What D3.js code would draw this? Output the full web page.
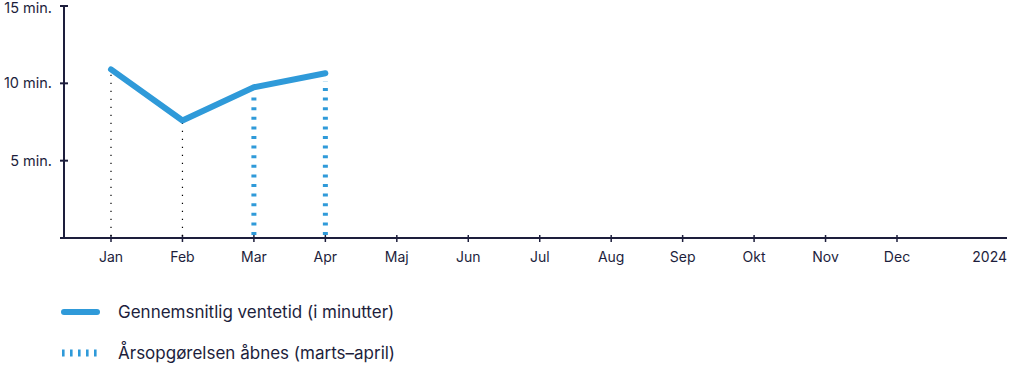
<!DOCTYPE html>
<html><head><meta charset="utf-8">
<script src="https://cdn.jsdelivr.net/npm/d3@7"></script>
<style>
body{margin:0;background:#fff;}
text{font-family:"Inter","Lato",sans-serif;fill:#1d1e3c;}
</style></head>
<body><svg id="c" width="1009" height="365"></svg>
<script>
const months = ["Jan","Feb","Mar","Apr","Maj","Jun","Jul","Aug","Sep","Okt","Nov","Dec"];
const yearLabel = "2024";
const values = [10.9, 7.6, 9.75, 10.65];
const markerIdxDotted = [0, 1];
const markerIdxDashed = [2, 3];
const yTicks = [5, 10, 15];
const legendLabels = ["Gennemsnitlig ventetid (i minutter)", "Årsopgørelsen åbnes (marts–april)"];

const navy = "#1d1e3c", blue = "#2f9ad9";
const svg = d3.select("#c");
const x = d3.scaleLinear().domain([0, 11]).range([111, 897]);
const y = d3.scaleLinear().domain([0, 15]).range([238, 6]);

// axes
svg.append("line").attr("x1",64).attr("x2",64).attr("y1",y(15)).attr("y2",y(0)+1)
  .attr("stroke",navy).attr("stroke-width",2);
svg.append("line").attr("x1",60).attr("x2",1007).attr("y1",y(0)).attr("y2",y(0))
  .attr("stroke",navy).attr("stroke-width",2);
yTicks.forEach(t=>{
  svg.append("line").attr("x1",60).attr("x2",68).attr("y1",y(t)).attr("y2",y(t)).attr("stroke",navy).attr("stroke-width",2);
  svg.append("text").attr("x",52).attr("y",Math.max(y(t),7.5)).attr("dy","0.35em").attr("text-anchor","end")
    .attr("font-size",14.5).text(t+" min.");
});
months.forEach((m,i)=>{
  svg.append("line").attr("x1",x(i)).attr("x2",x(i)).attr("y1",y(0)-3).attr("y2",y(0)+4).attr("stroke",navy).attr("stroke-width",1.5);
  svg.append("text").attr("x",x(i)).attr("y",257).attr("dy","0.35em").attr("text-anchor","middle")
    .attr("font-size",14).text(m);
});
svg.append("text").attr("x",1007).attr("y",257).attr("dy","0.35em").attr("text-anchor","end")
  .attr("font-size",14).text(yearLabel);

// marker lines
markerIdxDotted.forEach(i=>{
  svg.append("line").attr("x1",x(i)).attr("x2",x(i)).attr("y1",y(0)-2).attr("y2",y(values[i]))
    .attr("stroke","#000").attr("stroke-width",1.2).attr("stroke-dasharray","1.2,6.8");
});
markerIdxDashed.forEach(i=>{
  svg.append("line").attr("x1",x(i)).attr("x2",x(i)).attr("y1",y(0)-3).attr("y2",y(values[i])+8)
    .attr("stroke",blue).attr("stroke-width",5).attr("stroke-dasharray","3,6.6");
});

// series line
svg.append("path").datum(values)
  .attr("d", d3.line().x((d,i)=>x(i)).y(d=>y(d)))
  .attr("fill","none").attr("stroke",blue).attr("stroke-width",6)
  .attr("stroke-linecap","round").attr("stroke-linejoin","round");

// legend
svg.append("line").attr("x1",64).attr("x2",97).attr("y1",312).attr("y2",312)
  .attr("stroke",blue).attr("stroke-width",6).attr("stroke-linecap","round");
svg.append("text").attr("x",118).attr("y",312).attr("dy","0.35em").attr("font-size",17).text(legendLabels[0]);
svg.append("line").attr("x1",62).attr("x2",100).attr("y1",353).attr("y2",353)
  .attr("stroke",blue).attr("stroke-width",7).attr("stroke-dasharray","2.6,5.4");
svg.append("text").attr("x",118).attr("y",353).attr("dy","0.35em").attr("font-size",17).text(legendLabels[1]);
</script></body></html>
